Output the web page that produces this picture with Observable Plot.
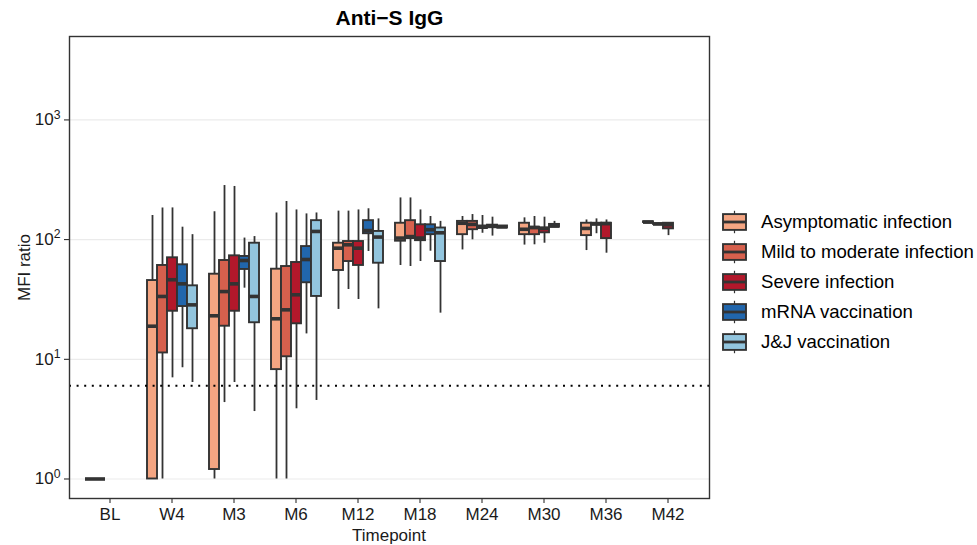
<!DOCTYPE html>
<html>
<head>
<meta charset="utf-8">
<script src="https://cdn.jsdelivr.net/npm/d3@7"></script>
<script src="https://cdn.jsdelivr.net/npm/@observablehq/plot@0.6"></script>
<style>
  body { margin: 0; background: white; }
  #wrap { position: relative; width: 977px; height: 545px; background: white; overflow: hidden; }
  #wrap > div, #wrap > svg, #wrap > figure { position: absolute; margin: 0; }
</style>
</head>
<body>
<div id="wrap"></div>
<script>
// ---------------- data ----------------
const title = "Anti\u2212S IgG";
const xLabel = "Timepoint";
const yLabel = "MFI ratio";
const timepoints = ["BL", "W4", "M3", "M6", "M12", "M18", "M24", "M30", "M36", "M42"];
const groups = ["Asymptomatic infection", "Mild to moderate infection", "Severe infection", "mRNA vaccination", "J&J vaccination"];
const palette = ["#F4A582", "#D6604D", "#B2182B", "#2166AC", "#92C5DE"];
const yTicks = [1, 10, 100, 1000];
const threshold = 6;

// five-number summaries [min, q1, median, q3, max] per timepoint (null = absent)
const asymptomatic = [
  [1, 1, 1, 1, 1], [1, 1, 18.9, 45.5, 159], [1, 1.2, 23.1, 51.4, 171], [1, 8.2, 21.8, 56.6, 167],
  [26.1, 55.2, 84.8, 93.3, 173], [60.8, 97, 103, 137, 223], [82, 110, 137, 142, 156],
  [90, 110, 122, 137, 152], [81, 108, 124, 137, 146], [138, 139, 140, 141, 142]
];
const mildModerate = [
  [1, 1, 1, 1, 1], [1, 11.3, 33.5, 60.8, 184], [4.35, 18.9, 36.8, 66.9, 283], [1, 10.5, 25.9, 59.6, 208],
  [38.3, 65.6, 90.5, 96.4, 173], [59.6, 102, 106, 144, 223], [99.6, 121, 134, 142, 162],
  [90.5, 110, 126, 127, 156], [112, 133, 135, 137, 149], [133, 134, 135, 136, 137]
];
const severe = [
  null, [7.0, 25.2, 46.2, 70.5, 184], [6.4, 25.2, 42.7, 73.2, 278], [3.86, 19.8, 34.6, 64.4, 177],
  [31.6, 60.8, 84.8, 96.4, 177], [65.6, 98, 103, 133, 177], [113, 124, 127, 130, 159],
  [93.3, 114, 124, 125, 154], [77, 102, 136, 137, 146], [108, 123, 133, 137, 137]
];
const mrna = [
  null, [8.5, 27.6, 42.7, 61.6, 127], [39.3, 56.3, 66.9, 72.3, 103], [16.3, 43.6, 68.2, 87.5, 164],
  [79.6, 112, 119, 144, 181], [80, 110, 121, 133, 156], [107, 127, 129, 132, 154],
  [126, 127, 130, 134, 142], null, null
];
const jnj = [
  null, [6.4, 18.0, 28.5, 41.1, 110], [3.66, 20.2, 33.5, 93.3, 106], [4.53, 33.5, 117, 144, 167],
  [26.4, 63.5, 105, 117, 149], [24.3, 65.6, 114, 125, 142], [124, 125, 128, 130, 131],
  null, null, null
];
const seriesStats = [asymptomatic, mildModerate, severe, mrna, jnj];

// ---------------- build table ----------------
const rows = [];
groups.forEach((g, gi) => {
  seriesStats[gi].forEach((s, ti) => {
    if (s) rows.push({time: timepoints[ti], group: g, min: s[0], q1: s[1], med: s[2], q3: s[3], max: s[4]});
  });
});

const font = "'Liberation Sans', Arial, Helvetica, sans-serif";
const W = 720, H = 545;
const margins = {marginLeft: 69, marginRight: W - 709, marginTop: 36, marginBottom: H - 498};
const yDomain = [Math.pow(10, -0.163), Math.pow(10, 3.697)];
const dark = "#333333";

const wrap = document.getElementById("wrap");

// background: y axis + grid
const bg = Plot.plot({
  width: W, height: H, ...margins,
  style: {fontFamily: font, fontSize: "17px", color: "#1a1a1a", background: "white"},
  x: {domain: [0, 1], axis: null},
  y: {type: "log", domain: yDomain, ticks: yTicks, tickFormat: d => "10^" + Math.round(Math.log10(d)),
      tickSize: 5, tickPadding: 4, label: yLabel, labelAnchor: "center", labelOffset: 52},
  marks: [
    Plot.ruleY(yTicks, {stroke: "#EBEBEB", strokeWidth: 1.2})
  ]
});
bg.style.left = "0px"; bg.style.top = "0px";
bg.querySelectorAll("text").forEach(t => {
  const m = /^10\^(\d)$/.exec(t.textContent);
  if (m) t.innerHTML = `10<tspan dy="-0.55em" font-size="72%">${m[1]}</tspan>`;
  else if (t.textContent.includes(yLabel)) t.textContent = yLabel;
});
wrap.appendChild(bg);

// boxes
const main = Plot.plot({
  width: W, height: H, ...margins,
  style: {fontFamily: font, fontSize: "17px", color: "#1a1a1a", background: "transparent"},
  facet: {data: rows, x: "time"},
  fx: {domain: timepoints, paddingInner: 0.171, paddingOuter: 0.1855, axis: "bottom",
       label: xLabel, labelAnchor: "center", labelOffset: 42, tickSize: 5, tickPadding: 4},
  x: {domain: groups, padding: 0, axis: null},
  y: {type: "log", domain: yDomain, axis: null},
  color: {domain: groups, range: palette},
  marks: [
    Plot.ruleX(rows, {x: "group", y1: "min", y2: "max", stroke: dark, strokeWidth: 1.8}),
    Plot.barY(rows, {x: "group", y1: "q1", y2: "q3", fill: "group", stroke: dark, strokeWidth: 1.9}),
    Plot.tickY(rows, {x: "group", y: "med", stroke: dark, strokeWidth: 3.6})
  ]
});
main.style.left = "0px"; main.style.top = "0px";
main.querySelectorAll("text").forEach(t => {
  if (t.textContent.includes(xLabel)) t.textContent = xLabel;
});
wrap.appendChild(main);

// overlay: threshold, panel border, title
const over = Plot.plot({
  width: W, height: H, ...margins,
  style: {fontFamily: font, fontSize: "17px", color: "black", background: "transparent"},
  x: {domain: [0, 1], axis: null},
  y: {type: "log", domain: yDomain, axis: null},
  marks: [
    Plot.ruleY([threshold], {stroke: "black", strokeWidth: 2, strokeDasharray: "2,5.6"}),
    Plot.frame({stroke: dark, strokeWidth: 1.4}),
    Plot.text([title], {text: d => d, frameAnchor: "top", lineAnchor: "middle", dy: -18,
                        fontWeight: "bold", fontSize: 21, fill: "black"})
  ]
});
over.style.left = "0px"; over.style.top = "0px";
wrap.appendChild(over);

// legend
const legend = Plot.plot({
  width: 267, height: 170,
  marginLeft: 12.7, marginRight: 267 - 36, marginTop: 16, marginBottom: 3,
  style: {fontFamily: font, fontSize: "18px", color: "black", background: "transparent", overflow: "visible"},
  x: {domain: ["k"], padding: 0, axis: null},
  y: {domain: groups, padding: 0, axis: null},
  color: {domain: groups, range: palette},
  marks: [
    Plot.cell(groups, {x: () => "k", y: d => d, fill: dark, insetLeft: 10.9, insetRight: 10.9, insetTop: 3.8, insetBottom: 3.8}),
    Plot.cell(groups, {x: () => "k", y: d => d, fill: d => d, stroke: dark, strokeWidth: 1.9, insetTop: 7.1, insetBottom: 7.1}),
    Plot.cell(groups, {x: () => "k", y: d => d, fill: dark, insetTop: 13.6, insetBottom: 13.6}),
    Plot.text(groups, {x: () => "k", y: d => d, text: d => d, textAnchor: "start", dx: 26, fontSize: 18.6, fill: "black"})
  ]
});
legend.style.left = "710px"; legend.style.top = "190px";
wrap.appendChild(legend);
</script>
</body>
</html>
